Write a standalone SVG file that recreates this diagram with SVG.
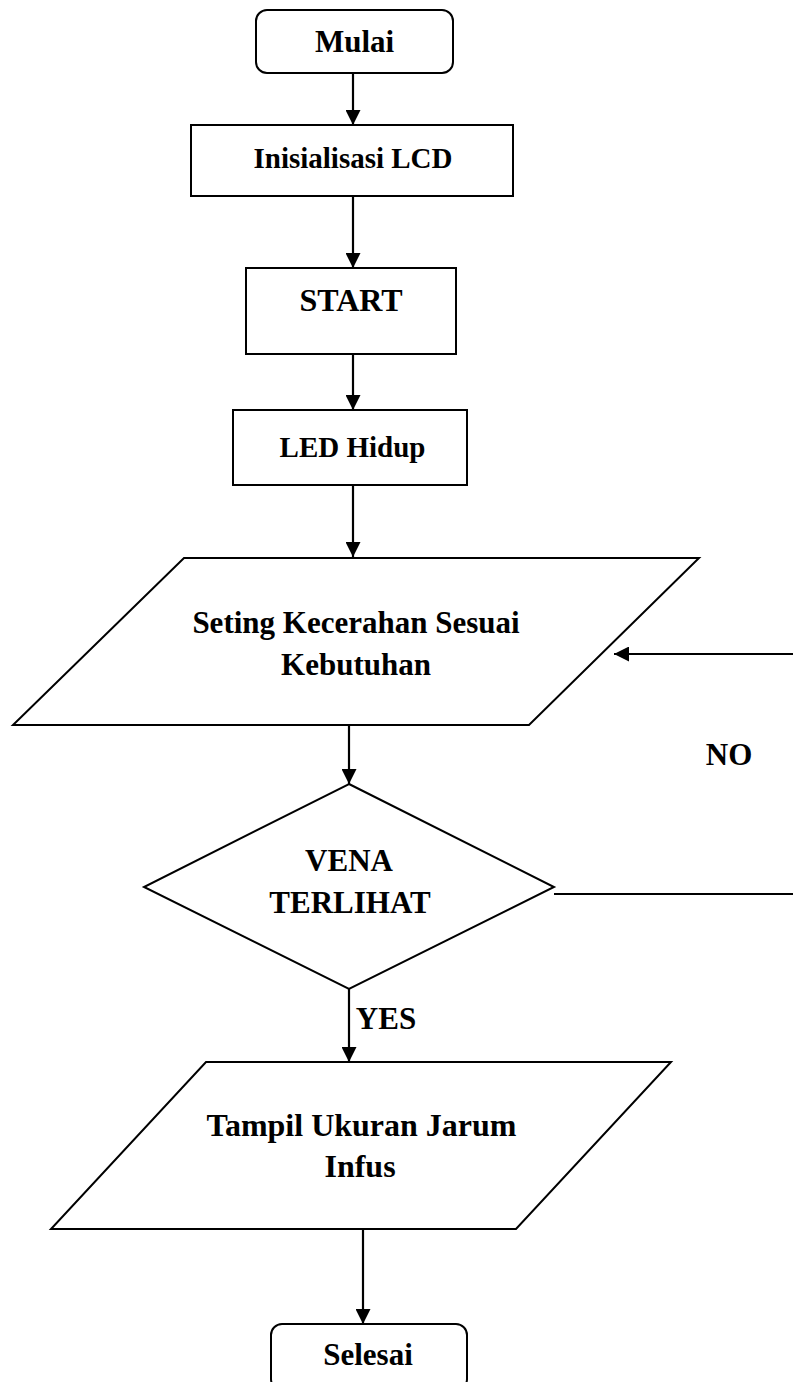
<svg xmlns="http://www.w3.org/2000/svg" width="793" height="1382" viewBox="0 0 793 1382">
<style>
.shape{fill:#fff;stroke:#000;stroke-width:2}
.lbl{font-family:"Liberation Serif","Times New Roman",serif;font-weight:bold;font-size:31px;fill:#000;text-anchor:middle}
.conn{fill:none;stroke:#000;stroke-width:2.2}
</style>
<defs>
<marker id="ah" markerUnits="userSpaceOnUse" markerWidth="15" markerHeight="15" refX="15" refY="7.5" orient="auto">
<path d="M0,0 L15,7.5 L0,15 Z" fill="#000"/>
</marker>
</defs>
<rect width="793" height="1382" fill="#fff"/>
<g id="connectors">
<path class="conn" d="M353,73 L353,125" marker-end="url(#ah)"/>
<path class="conn" d="M353,196 L353,268" marker-end="url(#ah)"/>
<path class="conn" d="M353,354 L353,410" marker-end="url(#ah)"/>
<path class="conn" d="M353,485 L353,557" marker-end="url(#ah)"/>
<path class="conn" d="M349,725 L349,784" marker-end="url(#ah)"/>
<path class="conn" d="M349,989 L349,1062" marker-end="url(#ah)"/>
<path class="conn" d="M363,1229 L363,1324" marker-end="url(#ah)"/>
<path class="conn" d="M554,894 L793,894"/>
<path class="conn" d="M793,654 L614,654" marker-end="url(#ah)"/>
<text class="lbl" x="386" y="1029">YES</text>
<text class="lbl" x="729" y="765">NO</text>
</g>
<g id="mulai">
<rect class="shape" x="256" y="10" width="197" height="63" rx="11"/>
<text class="lbl" x="354.5" y="52">Mulai</text>
</g>
<g id="init-lcd">
<rect class="shape" x="191" y="125" width="322" height="71"/>
<text class="lbl" x="353" y="168" style="font-size:29px">Inisialisasi LCD</text>
</g>
<g id="start">
<rect class="shape" x="246" y="268" width="210" height="86"/>
<text class="lbl" x="351" y="311" style="font-size:32px">START</text>
</g>
<g id="led-hidup">
<rect class="shape" x="233" y="410" width="234" height="75"/>
<text class="lbl" x="352.5" y="457" style="font-size:29px">LED Hidup</text>
</g>
<g id="seting">
<polygon class="shape" points="184,558 699,558 529,725 13,725"/>
<text class="lbl" x="356" y="633">Seting Kecerahan Sesuai</text>
<text class="lbl" x="356" y="675">Kebutuhan</text>
</g>
<g id="vena">
<polygon class="shape" points="349,784 554,887 349,989 144,887"/>
<text class="lbl" x="349" y="871">VENA</text>
<text class="lbl" x="350" y="913">TERLIHAT</text>
</g>
<g id="tampil">
<polygon class="shape" points="206,1062 671,1062 516,1229 51,1229"/>
<text class="lbl" x="361.5" y="1136" style="font-size:32px">Tampil Ukuran Jarum</text>
<text class="lbl" x="360" y="1177" style="font-size:32px">Infus</text>
</g>
<g id="selesai">
<rect class="shape" x="271" y="1324" width="196" height="66" rx="11"/>
<text class="lbl" x="368" y="1365">Selesai</text>
</g>
</svg>
